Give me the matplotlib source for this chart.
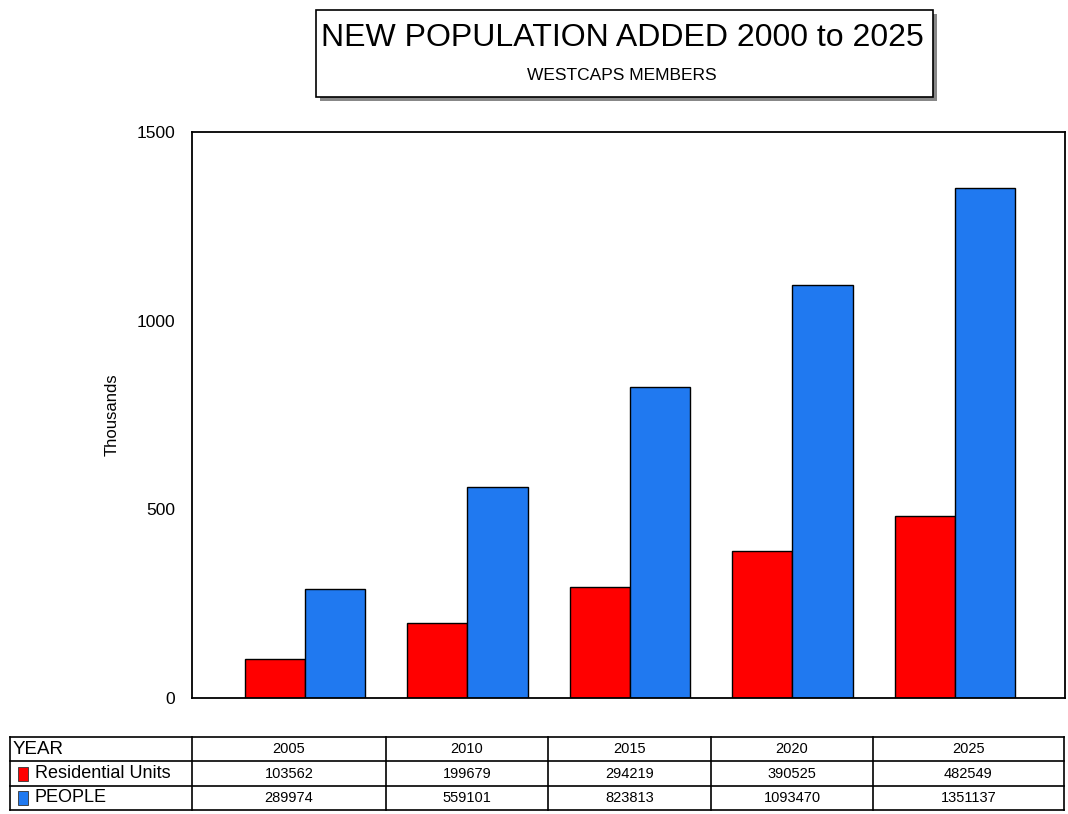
import numpy as np
import matplotlib.pyplot as plt
from matplotlib.patches import Rectangle

plt.rcParams['font.family'] = ['Liberation Sans', 'DejaVu Sans']

# ── Data ──
YEARS = ["2005", "2010", "2015", "2020", "2025"]
RESIDENTIAL = [103562, 199679, 294219, 390525, 482549]
PEOPLE = [289974, 559101, 823813, 1093470, 1351137]
SERIES = ["Residential Units", "PEOPLE"]

RED = "#ff0000"
BLUE = "#2079f0"

W, H = 1068, 814
fig = plt.figure(figsize=(W / 100, H / 100), dpi=100)


def fx(px):
    return px / W


def fy(py):
    return 1 - py / H


# ── Bar chart ──
ax = fig.add_axes([fx(192), fy(698), fx(1065) - fx(192), fy(132) - fy(698)])
x = np.arange(len(YEARS))
bw = 0.37
ax.bar(x - bw / 2, np.array(RESIDENTIAL) / 1000, bw, color=RED,
       edgecolor="black", linewidth=1.0)
ax.bar(x + bw / 2, np.array(PEOPLE) / 1000, bw, color=BLUE,
       edgecolor="black", linewidth=1.0)
ax.set_xlim(-0.695, 4.677)
ax.set_ylim(0, 1500)
ax.set_yticks([0, 500, 1000, 1500])
ax.set_xticks([])
ax.tick_params(axis="y", length=0, pad=12, labelsize=12.5)
for s in ax.spines.values():
    s.set_linewidth(1.3)
ax.set_ylabel("Thousands", fontsize=12)
ax.yaxis.set_label_coords(fx(120) - fx(192), 0.5, transform=None)
ax.yaxis.label.set_transform(fig.transFigure)
ax.yaxis.label.set_position((fx(120), fy(415)))

# ── Title box with shadow ──
fig.patches.append(Rectangle((fx(320), fy(101)), fx(933) - fx(316), fy(10) - fy(97),
                             transform=fig.transFigure, facecolor="#888888",
                             edgecolor="none", zorder=1))
fig.patches.append(Rectangle((fx(316), fy(97)), fx(933) - fx(316), fy(10) - fy(97),
                             transform=fig.transFigure, facecolor="white",
                             edgecolor="black", linewidth=1.2, zorder=2))
fig.text(fx(622), fy(38), "NEW POPULATION ADDED 2000 to 2025", ha="center",
         va="center", fontsize=23, zorder=3)
fig.text(fx(622), fy(76), "WESTCAPS MEMBERS", ha="center", va="center",
         fontsize=12.5, zorder=3)

# ── Data table ──
col_edges = [10, 192, 386, 548, 711, 873, 1064]
row_edges = [737, 761, 786, 810]
for xe in col_edges:
    fig.add_artist(plt.Line2D([fx(xe), fx(xe)], [fy(row_edges[0]), fy(row_edges[-1])],
                              transform=fig.transFigure, color="black", lw=1.2))
for ye in row_edges:
    fig.add_artist(plt.Line2D([fx(col_edges[0]), fx(col_edges[-1])], [fy(ye), fy(ye)],
                              transform=fig.transFigure, color="black", lw=1.2))

rows = [("YEAR", YEARS, None),
        (SERIES[0], [str(v) for v in RESIDENTIAL], RED),
        (SERIES[1], [str(v) for v in PEOPLE], BLUE)]
for r, (label, vals, color) in enumerate(rows):
    yc = fy((row_edges[r] + row_edges[r + 1]) / 2)
    tx = 13
    if color is not None:
        fig.patches.append(Rectangle((fx(18), yc - 7 / H), 10 / W, 14 / H,
                                     transform=fig.transFigure, facecolor=color,
                                     edgecolor="#333333", linewidth=0.6))
        tx = 35
    fig.text(fx(tx), yc, label, ha="left", va="center", fontsize=13.5 if color is None else 13)
    for c, v in enumerate(vals):
        xc = fx((col_edges[c + 1] + col_edges[c + 2]) / 2)
        fig.text(xc, yc, v, ha="center", va="center", fontsize=10.5)

fig.savefig("out.png", dpi=100)
